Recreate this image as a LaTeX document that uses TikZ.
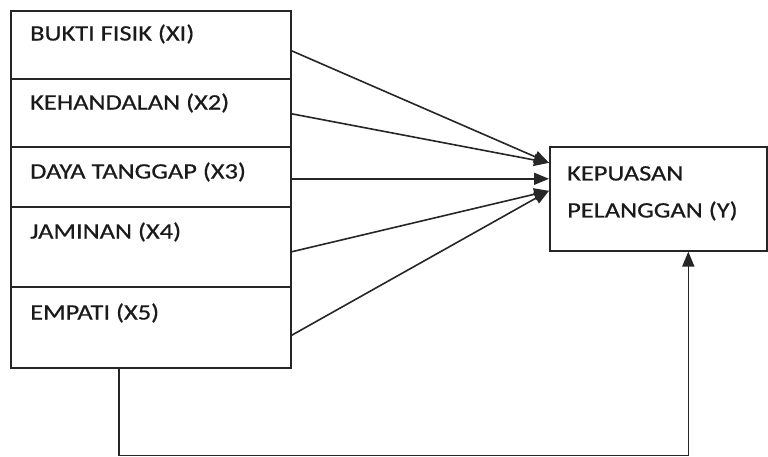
\documentclass[tikz,border=0pt]{standalone}
\usepackage{fontspec}
\setmainfont{Carlito}[FakeStretch=1.2,FakeBold=0.6]
\usetikzlibrary{calc,arrows.meta}
\definecolor{ln}{HTML}{262626}
\definecolor{tx}{HTML}{1A1A1A}
\begin{document}
\begin{tikzpicture}[x=1pt,y=-1pt,
  box/.style={draw=ln,line width=1.6pt,rectangle,minimum width=280pt,inner sep=0pt,anchor=north west},
  lbl/.style={anchor=west,inner sep=0pt,text=tx,font=\fontsize{22}{37}\selectfont},
  arr/.style={draw=ln,line width=1.6pt,-{Triangle[length=15pt,width=12pt]}},
  con/.style={draw=ln,line width=1.6pt}]
\useasboundingbox (0,0) rectangle (768,457);
\node[box,minimum height=68pt] (b1) at (10,10) {};
\node[box,minimum height=68pt] (b2) at (10,78) {};
\node[box,minimum height=60pt] (b3) at (10,146) {};
\node[box,minimum height=80pt] (b4) at (10,206) {};
\node[box,minimum height=81pt] (b5) at (10,286) {};
\node[lbl] (t1) at (30,34) {BUKTI FISIK (XI)};
\node[lbl] (t2) at (30,103) {KEHANDALAN (X2)};
\node[lbl] (t3) at (30,172) {DAYA TANGGAP (X3)};
\node[lbl] (t4) at (30,232) {JAMINAN (X4)};
\node[lbl] (t5) at (30,313) {EMPATI (X5)};
\node[box,minimum width=217pt,minimum height=104pt] (y) at (549,146) {};
\node[lbl,anchor=north west,align=left] (ty) at (567,166) {KEPUASAN\\PELANGGAN (Y)};
\draw[arr] ([yshift=-6pt]b1.east) -- ([yshift=36pt]y.west);
\draw[arr] ([yshift=-1pt]b2.east) -- ([yshift=36pt]y.west);
\draw[arr] ([yshift=-2pt]b3.east) -- ([yshift=20pt]y.west);
\draw[arr] ([yshift=-5pt]b4.east) -- ([yshift=8pt]y.west);
\draw[arr] ([yshift=-8pt]b5.east) -- ([yshift=8pt]y.west);
\draw[con] ([xshift=-32pt]b5.south) -- ++(0,87) coordinate (c1);
\draw[arr] (c1) -| ([xshift=30pt]y.south);
\end{tikzpicture}
\end{document}
